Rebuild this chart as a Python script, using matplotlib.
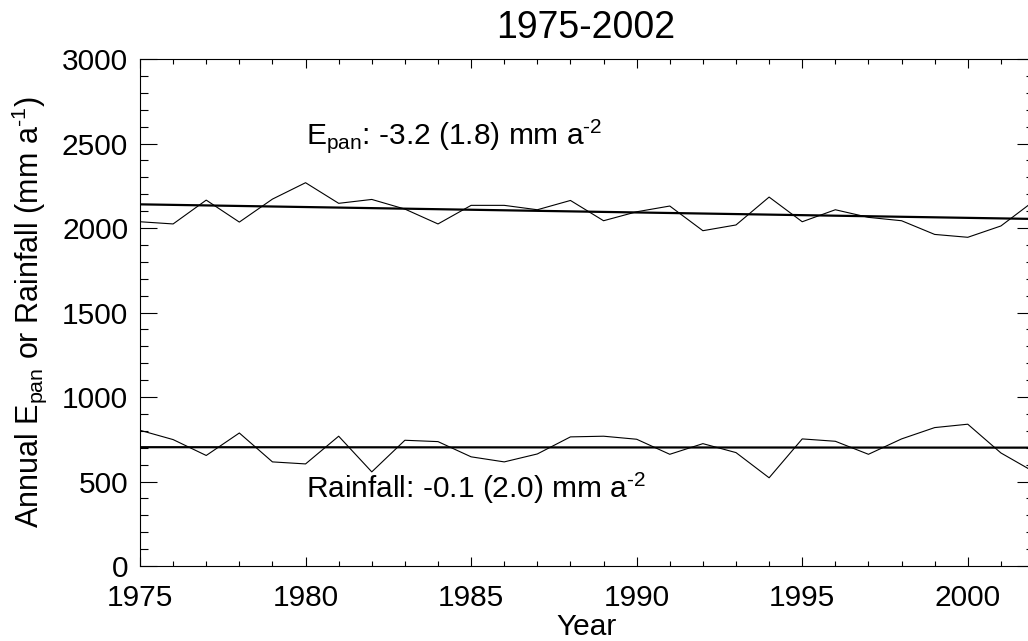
import matplotlib
matplotlib.use("Agg")
import matplotlib.pyplot as plt
import numpy as np
from matplotlib.ticker import MultipleLocator

plt.rcParams['font.family'] = ['Liberation Sans', 'DejaVu Sans']
plt.rcParams['mathtext.fontset'] = 'custom'
plt.rcParams['mathtext.rm'] = 'Liberation Sans'
plt.rcParams['mathtext.it'] = 'Liberation Sans'

years = np.arange(1975, 2003)
epan = [2037, 2024, 2165, 2035, 2171, 2268, 2146, 2169, 2112, 2024,
        2134, 2134, 2108, 2163, 2043, 2096, 2130, 1984, 2018, 2183,
        2037, 2108, 2063, 2043, 1962, 1945, 2012, 2160]
rain = [803, 748, 654, 787, 616, 604, 768, 557, 744, 736,
        646, 616, 663, 764, 768, 750, 661, 724, 671, 522,
        752, 738, 661, 752, 819, 839, 669, 557]

# trend: value at 1975 and slope (mm/a per year)
epan_trend = (2140, -3.2)
rain_trend = (703, -0.1)

W, H = 1028, 641
fig = plt.figure(figsize=(W/100, H/100), dpi=100)
# right spine sits just past the right edge, as in the reference crop
ax = fig.add_axes([140/W, 1-566/H, 894/W, 507/H])

ax.plot(years, epan, color='black', lw=0.8)
ax.plot(years, rain, color='black', lw=0.8)
for b0, s in (epan_trend, rain_trend):
    ax.plot(years, b0 + s*(years-1975), color='black', lw=1.6)

ax.set_xlim(1975, 2002)
ax.set_ylim(0, 3000)
ax.xaxis.set_major_locator(MultipleLocator(5))
ax.xaxis.set_minor_locator(MultipleLocator(1))
ax.yaxis.set_major_locator(MultipleLocator(500))
ax.yaxis.set_minor_locator(MultipleLocator(100))
ax.tick_params(which='both', direction='in', top=True, right=True,
               labelsize=21.5, width=0.8)
ax.tick_params(axis='x', which='major', length=6.8, pad=13)
ax.tick_params(axis='x', which='minor', length=3.6)
ax.tick_params(axis='y', which='major', length=12.2, pad=8.5)
ax.tick_params(axis='y', which='minor', length=6)
for sp in ax.spines.values():
    sp.set_linewidth(0.8)

ax.set_xlabel('Year', fontsize=21.5, labelpad=1)
ax.set_ylabel(r'Annual E$_{\mathregular{pan}}$ or Rainfall (mm a$^{\mathregular{‐1}}$)',
              fontsize=22, labelpad=9)
fig.text(586/W, 1-27.5/H, '1975-2002', fontsize=27, ha='center', va='center')

ax.text(1980, 2496, r'E$_{\mathregular{pan}}$: -3.2 (1.8) mm a$^{\mathregular{‐2}}$',
        fontsize=21.5, va='baseline')
ax.text(1980, 402, r'Rainfall: -0.1 (2.0) mm a$^{\mathregular{‐2}}$',
        fontsize=21.5, va='baseline')

fig.savefig('out.png', dpi=100)
